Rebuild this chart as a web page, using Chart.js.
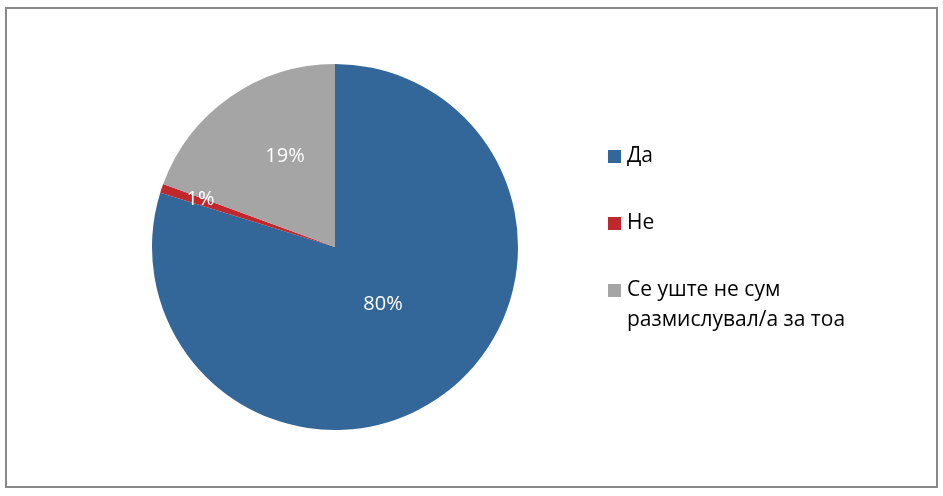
<!DOCTYPE html>
<html>
<head>
<meta charset="utf-8">
<script src="https://cdn.jsdelivr.net/npm/chart.js@4"></script>
<style>
    html, body { margin: 0; padding: 0; background: #fff; }
    #wrap { position: relative; width: 943px; height: 496px; }
    #frame { position: absolute; left: 5px; top: 7px; width: 929px; height: 477px; border: 2px solid #898989; box-sizing: content-box; }
    canvas { position: absolute; left: 0; top: 0; }
</style>
</head>
<body>
<div id="wrap">
    <div id="frame"></div>
    <canvas id="myChart" width="943" height="496"></canvas>
</div>
<script>
// Données du graphique
const labels = ['Да', 'Не', ['Се уште не сум', 'размислувал/а за тоа']];
const values = [79.8, 0.8, 19.4];
const colors = ['#336699', '#C0282D', '#A5A5A5'];

const FONT = '"Open Sans", "Noto Sans", sans-serif';

// étiquettes de pourcentage + légende dessinées à la main
const pieText = {
    id: 'pieText',
    afterDraw(chart, args, opts) {
        const ctx = chart.ctx;
        const meta = chart.getDatasetMeta(0);
        ctx.save();

        // pourcentages (position : fraction de l'angle et du rayon de chaque part)
        ctx.fillStyle = '#fff';
        ctx.font = '20px ' + FONT;
        ctx.textAlign = 'center';
        ctx.textBaseline = 'middle';
        meta.data.forEach((arc, i) => {
            const p = arc.getProps(['x', 'y', 'startAngle', 'endAngle', 'outerRadius']);
            const a = p.startAngle + (p.endAngle - p.startAngle) * opts.labelAngle[i];
            const r = p.outerRadius * opts.labelRadius[i];
            ctx.fillText(Math.round(values[i]) + '%', p.x + Math.cos(a) * r, p.y + Math.sin(a) * r);
        });

        // légende
        ctx.font = '21px ' + FONT;
        ctx.textAlign = 'left';
        ctx.textBaseline = 'middle';
        let y = opts.legendTop;
        labels.forEach((lab, i) => {
            const lines = Array.isArray(lab) ? lab : [lab];
            ctx.fillStyle = colors[i];
            ctx.fillRect(opts.legendLeft, y - 6, 13, 13);
            ctx.fillStyle = '#000';
            lines.forEach((l, j) => {
                ctx.fillText(l, opts.legendLeft + 19, y + j * opts.lineHeight);
            });
            y += opts.rowGap;
        });
        ctx.restore();
    }
};

const ctx = document.getElementById('myChart').getContext('2d');
const chart = new Chart(ctx, {
    type: 'pie',
    data: {
        labels: labels,
        datasets: [{
            data: values,
            backgroundColor: colors,
            borderWidth: 0
        }]
    },
    options: {
        responsive: false,
        animation: false,
        layout: { padding: { left: 152, right: 425, top: 63, bottom: 65 } },
        plugins: {
            legend: { display: false },
            tooltip: { enabled: false },
            pieText: {
                labelAngle: [0.488, 0.79, 0.586],
                labelRadius: [0.41, 0.78, 0.565],
                legendLeft: 608,
                legendTop: 156,
                rowGap: 67,
                lineHeight: 30
            }
        }
    },
    plugins: [pieText]
});
</script>
</body>
</html>
